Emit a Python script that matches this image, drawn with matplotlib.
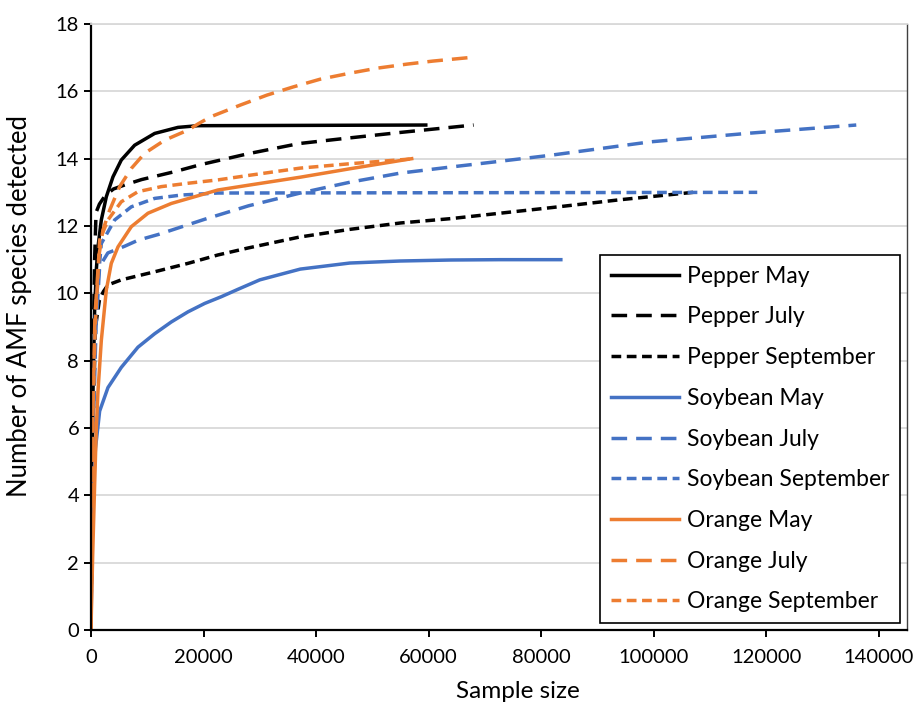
import matplotlib
matplotlib.use('Agg')
from matplotlib import pyplot as plt

# (sample size, species) per curve
pepper_may_x = [0, 150, 350, 650, 950, 1250, 1840, 2730, 3910, 5390, 7760, 11320, 15470, 19020, 59500]
pepper_may_y = [0, 3.5, 7.0, 9.5, 10.7, 11.38, 12.18, 12.87, 13.46, 13.96, 14.4, 14.75, 14.93, 14.98, 15.0]

pepper_jul_x = [0, 150, 350, 650, 900, 1500, 2500, 4000, 6000, 9000, 12000, 15000, 19400, 28000, 37000, 45000, 55000, 68000]
pepper_jul_y = [0, 4.0, 8.0, 11.0, 12.4, 12.65, 12.9, 13.1, 13.22, 13.38, 13.5, 13.62, 13.82, 14.15, 14.45, 14.6, 14.78, 15.0]

pepper_sep_x = [0, 150, 350, 800, 1500, 2200, 3020, 5390, 11320, 17240, 22570, 28000, 37000, 46000, 55000, 64000, 72700, 82000, 94000, 107000]
pepper_sep_y = [0, 3.0, 6.0, 9.0, 9.8, 10.05, 10.25, 10.4, 10.64, 10.89, 11.14, 11.35, 11.67, 11.9, 12.09, 12.22, 12.38, 12.55, 12.78, 13.0]

soy_may_x = [0, 200, 450, 800, 1240, 1540, 3020, 5390, 8350, 11320, 14280, 17240, 20210, 23170, 26130, 30000, 37200, 46000, 54900, 64000, 72700, 83500]
soy_may_y = [0, 2.5, 4.3, 5.4, 6.04, 6.5, 7.2, 7.8, 8.4, 8.8, 9.15, 9.45, 9.7, 9.9, 10.12, 10.4, 10.72, 10.9, 10.96, 10.99, 11.0, 11.0]

soy_jul_x = [0, 200, 500, 900, 1540, 3000, 6000, 8400, 12000, 20200, 28000, 37200, 46000, 54900, 63800, 71500, 81600, 99400, 117200, 136000]
soy_jul_y = [0, 3.5, 6.5, 9.0, 10.8, 11.2, 11.4, 11.58, 11.75, 12.2, 12.6, 12.98, 13.3, 13.57, 13.75, 13.9, 14.1, 14.5, 14.76, 15.0]

soy_sep_x = [0, 150, 350, 800, 1840, 4210, 7170, 11320, 16060, 22570, 118400]
soy_sep_y = [0, 3.0, 6.0, 9.5, 11.48, 12.18, 12.57, 12.82, 12.92, 12.98, 13.0]

orange_may_x = [0, 300, 650, 950, 1250, 1840, 2730, 3610, 4800, 7170, 10130, 14280, 18430, 22570, 28300, 37200, 46000, 57000]
orange_may_y = [0, 2.2, 4.3, 6.0, 7.1, 8.6, 10.1, 10.89, 11.38, 11.98, 12.38, 12.67, 12.87, 13.07, 13.22, 13.45, 13.7, 14.0]

orange_jul_x = [0, 150, 350, 700, 1400, 2130, 3320, 5100, 7170, 9540, 13100, 17240, 19000, 21200, 26500, 31300, 35900, 40700, 46000, 50900, 56200, 60800, 67000]
orange_jul_y = [0, 3.5, 6.5, 9.3, 11.1, 11.88, 12.47, 13.17, 13.71, 14.16, 14.55, 14.85, 15.03, 15.24, 15.59, 15.89, 16.13, 16.36, 16.54, 16.69, 16.81, 16.9, 17.0]

orange_sep_x = [0, 150, 350, 750, 1540, 3020, 5390, 8350, 12500, 17240, 22570, 28300, 37200, 46000, 57500]
orange_sep_y = [0, 3.5, 6.5, 9.0, 11.58, 12.18, 12.72, 13.02, 13.17, 13.27, 13.37, 13.51, 13.72, 13.85, 14.0]

x_ticks = [0, 20000, 40000, 60000, 80000, 100000, 120000, 140000]
y_ticks = [0, 2, 4, 6, 8, 10, 12, 14, 16, 18]

black = '#000000'
blue = '#4472C4'
orange = '#ED7D31'
long_dash = (0, (4.5, 2.6))
short_dash = (0, (2.8, 1.6))

plt.rcParams['font.family'] = ['Lato', 'DejaVu Sans']

fig = plt.figure(figsize=(9.17, 7.07), dpi=100)
ax = fig.add_axes([0.0992, 0.109, 0.8898, 0.857])

curves = [
    (pepper_may_x, pepper_may_y, black, '-', 'Pepper May'),
    (pepper_jul_x, pepper_jul_y, black, long_dash, 'Pepper July'),
    (pepper_sep_x, pepper_sep_y, black, short_dash, 'Pepper September'),
    (soy_may_x, soy_may_y, blue, '-', 'Soybean May'),
    (soy_jul_x, soy_jul_y, blue, long_dash, 'Soybean July'),
    (soy_sep_x, soy_sep_y, blue, short_dash, 'Soybean September'),
    (orange_may_x, orange_may_y, orange, '-', 'Orange May'),
    (orange_jul_x, orange_jul_y, orange, long_dash, 'Orange July'),
    (orange_sep_x, orange_sep_y, orange, short_dash, 'Orange September'),
]
for xs, ys, c, ls, lab in curves:
    ax.plot(xs, ys, color=c, linestyle=ls, linewidth=2.5, label=lab,
            solid_joinstyle='round', dash_joinstyle='round')

ax.set_xlim(0, 145000)
ax.set_ylim(0, 18)
ax.set_xticks(x_ticks)
ax.set_yticks(y_ticks)
ax.grid(axis='y', color='#D9D9D9', linewidth=1.3)
ax.set_axisbelow(True)

for s in ['left', 'bottom']:
    ax.spines[s].set_linewidth(1.6)
    ax.spines[s].set_color('black')
ax.spines['top'].set_color('#D9D9D9')
ax.spines['top'].set_linewidth(1.3)
ax.spines['right'].set_color('#404040')
ax.spines['right'].set_linewidth(1.0)
ax.tick_params(axis='both', direction='out', length=5, width=1.4, labelsize=14.5, colors='black')
ax.tick_params(axis='x', pad=9)

ax.set_xlabel('Sample size', fontsize=17.5)
ax.set_ylabel('Number of AMF species detected', fontsize=18.5)
ax.yaxis.set_label_coords(-0.072, 0.535)
ax.xaxis.set_label_coords(0.523, -0.085)

leg = ax.legend(loc='lower right', bbox_to_anchor=(0.9914, 0.0116), borderaxespad=0,
                fontsize=16.5, handlelength=2.95, handletextpad=0.36, labelspacing=0.86,
                borderpad=0.46, fancybox=False, framealpha=1, edgecolor='black')
leg.get_frame().set_linewidth(1.2)

fig.savefig('out.png', dpi=100)
